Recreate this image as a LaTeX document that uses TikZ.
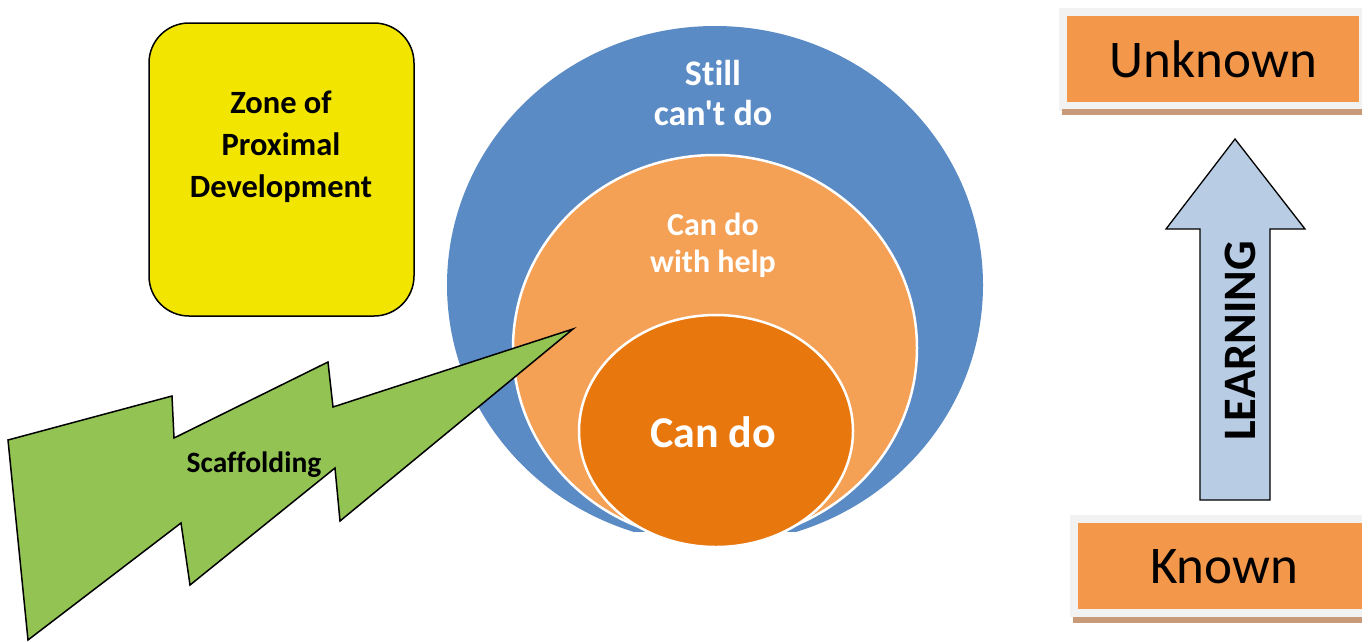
\documentclass[tikz,border=0pt]{standalone}
\usepackage{fontspec}
\setmainfont{Carlito}[Ligatures={NoCommon}]
\definecolor{zblue}{RGB}{91,139,197}
\definecolor{zlorange}{RGB}{244,160,85}
\definecolor{zdorange}{RGB}{232,119,14}
\definecolor{zyellow}{RGB}{242,230,0}
\definecolor{zgreen}{RGB}{146,195,83}
\definecolor{zboxorange}{RGB}{243,152,75}
\definecolor{zframe}{RGB}{242,242,242}
\definecolor{ztan}{RGB}{200,154,120}
\definecolor{zarrow}{RGB}{184,204,228}
\tikzset{
  ringtext/.style={text=white, font=\bfseries, align=center, inner sep=0pt},
  boxlabel/.style={fill=zboxorange, inner sep=0pt, anchor=north west, font=\fontsize{53}{60}\selectfont},
  outline/.style={draw=black, line width=1.5pt, line join=miter}
}
\begin{document}
\begin{tikzpicture}[x=1pt,y=-1pt]
\useasboundingbox (0,0) rectangle (1368,641);
% nested circles
\begin{scope}
\clip (400,0) rectangle (1000,531);
\fill[zblue] (715,285) ellipse [x radius=268, y radius=259];
\end{scope}
\draw[white, line width=2.5pt, fill=zlorange] (715,348) ellipse [x radius=202, y radius=193];
\draw[white, line width=2.5pt, fill=zdorange] (716,431) ellipse [x radius=137, y radius=116];
\node[ringtext, font=\bfseries\fontsize{36}{40}\selectfont\addfontfeatures{Ligatures=TeXOff}] (still) at (713,93) {Still\\can't do};
\node[ringtext, font=\bfseries\fontsize{32}{37}\selectfont] (help) at (713,245) {Can do\\with help};
\node[ringtext, font=\bfseries\fontsize{44}{50}\selectfont] (cando) at (713,432) {Can do};
% zone box
\node[outline, fill=zyellow, rounded corners=40pt, minimum width=265pt, minimum height=293pt, inner sep=0pt] (zone) at (281.5,169.5) {};
\node[align=center, inner sep=0pt, font=\bfseries\fontsize{32.5}{42}\selectfont] (zonetext) at (281,147) {Zone of\\Proximal\\Development};
% lightning
\draw[outline, fill=zgreen] (8,440) -- (172,396) -- (174,438) -- (328,362) -- (333,407) -- (573,329) -- (340,521) -- (335,468) -- (190,585) -- (181,523) -- (28,640) -- cycle;
\node[inner sep=0pt, font=\bfseries\fontsize{29.5}{32}\selectfont] (scaf) at (254,465) {Scaffolding};
% unknown box
\fill[zframe] (1059,8) rectangle (1362,111);
\fill[ztan] (1062,109) rectangle (1362,115);
\node[boxlabel, minimum width=292pt, minimum height=86pt] (unknown) at (1067,16) {Unknown};
% known box
\fill[zframe] (1070,515) rectangle (1362,617);
\fill[ztan] (1073,617) rectangle (1362,623);
\node[boxlabel, minimum width=284pt, minimum height=86pt, text width=284pt, align=center] (known) at (1078,523) {\hspace*{8pt}Known};
% learning arrow
\draw[outline, line width=1.3pt, fill=zarrow] (1235,139) -- (1305,229) -- (1270,229) -- (1270,500) -- (1200,500) -- (1200,229) -- (1166,229) -- cycle;
\node[rotate=90, inner sep=0pt, font=\bfseries\fontsize{46.5}{50}\selectfont] (learning) at (1240,341) {LEARNING};
\end{tikzpicture}
\end{document}
